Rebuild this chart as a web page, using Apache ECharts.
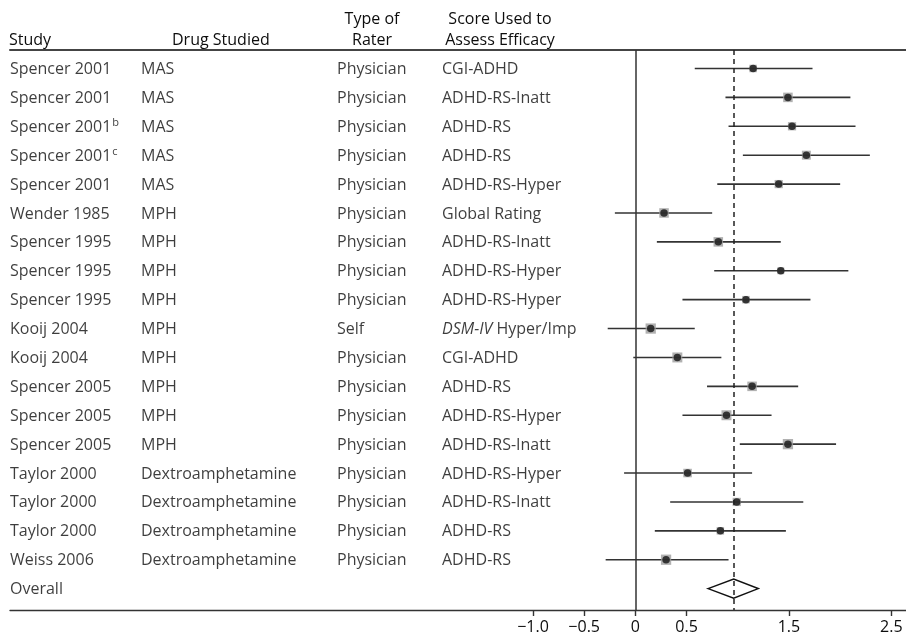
<!DOCTYPE html>
<html><head><meta charset="utf-8">
<script src="https://cdn.jsdelivr.net/npm/echarts@6/dist/echarts.min.js"></script>
<style>html,body{margin:0;padding:0;background:#fff}#c{width:906px;height:639px}</style>
</head><body><div id="c"></div>
<script>
const studies = ['Spencer 2001','Spencer 2001','Spencer 2001','Spencer 2001','Spencer 2001','Wender 1985','Spencer 1995','Spencer 1995','Spencer 1995','Kooij 2004','Kooij 2004','Spencer 2005','Spencer 2005','Spencer 2005','Taylor 2000','Taylor 2000','Taylor 2000','Weiss 2006','Overall'];
const studyNotes = ['','','b','c','','','','','','','','','','','','','','',''];
const drugs = ['MAS','MAS','MAS','MAS','MAS','MPH','MPH','MPH','MPH','MPH','MPH','MPH','MPH','MPH','Dextroamphetamine','Dextroamphetamine','Dextroamphetamine','Dextroamphetamine',''];
const raters = ['Physician','Physician','Physician','Physician','Physician','Physician','Physician','Physician','Physician','Self','Physician','Physician','Physician','Physician','Physician','Physician','Physician','Physician',''];
const scores = ['CGI-ADHD','ADHD-RS-Inatt','ADHD-RS','ADHD-RS','ADHD-RS-Hyper','Global Rating','ADHD-RS-Inatt','ADHD-RS-Hyper','ADHD-RS-Hyper','DSM-IV Hyper/Imp','CGI-ADHD','ADHD-RS','ADHD-RS-Hyper','ADHD-RS-Inatt','ADHD-RS-Hyper','ADHD-RS-Inatt','ADHD-RS','ADHD-RS',''];
const est   = [1.15,1.49,1.53,1.67,1.40,0.28,0.81,1.42,1.08,0.15,0.41,1.14,0.89,1.49,0.51,0.99,0.83,0.30];
const lower = [0.58,0.88,0.91,1.05,0.80,-0.20,0.21,0.77,0.46,-0.27,-0.02,0.70,0.46,1.02,-0.11,0.34,0.19,-0.29];
const upper = [1.73,2.10,2.15,2.29,2.00,0.75,1.42,2.08,1.71,0.58,0.84,1.59,1.33,1.96,1.14,1.64,1.47,0.91];
const weights = [5.3,8.6,6.4,7.6,6.4,8.6,8.6,4.5,5.3,10,9.4,8.6,9.4,10,6.9,6.4,5.3,10];
const overallEst = 0.96, overallLower = 0.71, overallUpper = 1.20;
const tickValues = [-1,-0.5,0,0.5,1.5,2.5];
const tickLabels = ['\u22121.0','\u22120.5','0','0.5','1.5','2.5'];
const headers = {study:['Study'], drug:['Drug Studied'], rater:['Type of','Rater'], score:['Score Used to','Assess Efficacy']};

const FONT = '"Open Sans", "Noto Sans", sans-serif';
const FS = 16;
const TXT = '#0d0d0d';
const overallRow = studies.length - 1;

const chart = echarts.init(document.getElementById('c'), null, {renderer:'canvas'});

function textSeries(col, xpos, fmt, rich){
  return {
    type:'scatter', xAxisIndex:2, yAxisIndex:0, symbolSize:0, silent:true, z:5,
    data: col.map((t,i)=>[xpos,i]),
    label:{show:true, position:'right', distance:0, offset:[0,1], color:TXT, fontFamily:FONT, fontSize:FS, lineHeight:20,
      formatter: p => fmt(p.dataIndex), rich: rich || {}}
  };
}

const supRich = {sup:{fontSize:11, verticalAlign:'top', lineHeight:20, color:TXT, fontFamily:FONT, padding:[0,0,0,1]}};
const itRich = {it:{fontStyle:'italic', fontSize:FS, color:TXT, fontFamily:FONT, lineHeight:20}};
const hdr = (x, y, t, align) => ({type:'text', x:x, y:y, silent:true,
  style:{text:t, font:FS+'px '+FONT, fill:TXT, textAlign:align || 'left', textVerticalAlign:'middle'}});

const option = {
  animation:false,
  backgroundColor:'#fff',
  grid:{left:10, right:0, top:50, bottom:29, containLabel:false},
  xAxis:[
    {type:'value', min:-6.107, max:2.643, position:'bottom',
      axisLine:{show:true, onZero:false, lineStyle:{color:'#333', width:1.4}},
      axisTick:{show:true, customValues:tickValues, length:6, lineStyle:{color:'#333', width:1.4}},
      axisLabel:{show:true, customValues:tickValues, margin:9, color:TXT, fontFamily:FONT, fontSize:FS,
        formatter: v => { const k = tickValues.findIndex(t => Math.abs(t - v) < 1e-9); return k >= 0 ? tickLabels[k] : ''; }},
      splitLine:{show:false}},
    {type:'value', min:-6.107, max:2.643, position:'top',
      axisLine:{show:true, onZero:false, lineStyle:{color:'#444', width:2}},
      axisTick:{show:false}, axisLabel:{show:false}, splitLine:{show:false}},
    {type:'value', min:0, max:896, show:false}
  ],
  yAxis:[{type:'value', inverse:true, min:-0.64, max:18.74, show:false}],
  graphic:[
    hdr(9, 40, headers.study[0]),
    hdr(172, 40, headers.drug[0]),
    hdr(372, 19, headers.rater[0], 'center'),
    hdr(372, 40, headers.rater[1], 'center'),
    hdr(500, 19, headers.score[0], 'center'),
    hdr(500, 40, headers.score[1], 'center')
  ],
  series:[
    {type:'custom', name:'ci', xAxisIndex:0, yAxisIndex:0, silent:true, z:2,
      data: lower.map((l,i)=>[l, upper[i], i]),
      encode:{x:[0,1], y:2},
      renderItem:(params, api) => {
        const y = api.value(2);
        const a = api.coord([api.value(0), y]);
        const b = api.coord([api.value(1), y]);
        return {type:'line', shape:{x1:a[0], y1:a[1], x2:b[0], y2:b[1]}, style:{stroke:'#333', lineWidth:1.6}};
      },
      markLine:{silent:true, symbol:'none', label:{show:false}, animation:false,
        data:[
          {xAxis:0, lineStyle:{color:'#333', width:1.5, type:'solid'}},
          {xAxis:overallEst, lineStyle:{color:'#222', width:1.5, type:[5,4]}}
        ]}
    },
    {type:'scatter', name:'weight', xAxisIndex:0, yAxisIndex:0, silent:true, z:3,
      symbol:'rect', data: est.map((e,i)=>[e, i, weights[i]]),
      symbolSize: v => Math.sqrt(v[2]) * 3.25,
      itemStyle:{color:'#9d9d9d'}},
    {type:'scatter', name:'est', xAxisIndex:0, yAxisIndex:0, silent:true, z:4,
      symbol:'circle', symbolSize:7.5, data: est.map((e,i)=>[e, i]),
      itemStyle:{color:'#141414'}},
    {type:'custom', name:'overall', xAxisIndex:0, yAxisIndex:0, silent:true, z:4,
      data:[[overallLower, overallEst, overallUpper, overallRow]],
      encode:{x:[0,1,2], y:3},
      renderItem:(params, api) => {
        const y = api.value(3);
        const l = api.coord([api.value(0), y]);
        const m = api.coord([api.value(1), y]);
        const r = api.coord([api.value(2), y]);
        const h = api.size([0, 0.33])[1];
        return {type:'polygon', shape:{points:[[l[0],l[1]],[m[0],m[1]-h],[r[0],r[1]],[m[0],m[1]+h]]},
          style:{fill:'#fff', stroke:'#111', lineWidth:1.5}};
      }
    },
    textSeries(studies, 0, i => studies[i] + (studyNotes[i] ? '{sup|' + studyNotes[i] + '}' : ''), supRich),
    textSeries(drugs, 131, i => drugs[i]),
    textSeries(raters, 327, i => raters[i]),
    textSeries(scores, 432, i => scores[i].startsWith('DSM-IV') ? '{it|DSM-IV}' + scores[i].slice(6) : scores[i], itRich)
  ]
};
chart.setOption(option);
</script></body></html>
